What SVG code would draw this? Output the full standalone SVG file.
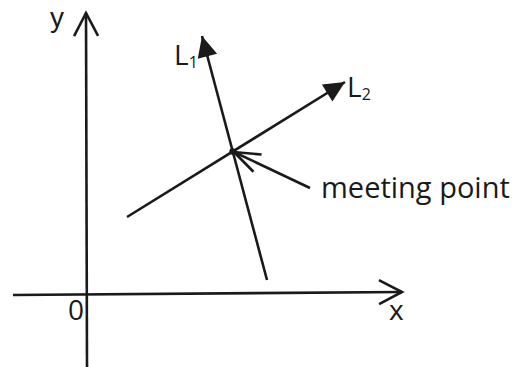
<svg xmlns="http://www.w3.org/2000/svg" width="521" height="367" viewBox="0 0 521 367">
  <style>
    .ln { stroke: #1a1a1a; stroke-width: 2.6; fill: none; }
    .lbl { font-family: "Open Sans", "Liberation Sans", sans-serif; fill: #1a1a1a; }
  </style>
  <defs>
    <marker id="open" markerUnits="userSpaceOnUse" viewBox="-26 -16 30 32" markerWidth="30" markerHeight="32" refX="0" refY="0" orient="auto" overflow="visible">
      <path d="M-23,-12 L0,0 L-23,12" fill="none" stroke="#1a1a1a" stroke-width="2.6" stroke-linejoin="miter"/>
    </marker>
    <marker id="open2" markerUnits="userSpaceOnUse" viewBox="-28 -12 30 24" markerWidth="30" markerHeight="24" refX="0" refY="0" orient="auto" overflow="visible">
      <path d="M-26,-9.5 L0,0 L-26,9.5" fill="none" stroke="#1a1a1a" stroke-width="2.6" stroke-linejoin="miter"/>
    </marker>
    <marker id="solid" markerUnits="userSpaceOnUse" viewBox="-22 -11 23 22" markerWidth="23" markerHeight="22" refX="0" refY="0" orient="auto" overflow="visible">
      <path d="M-21,-10 L0,0 L-21,10 Z" fill="#1a1a1a"/>
    </marker>
  </defs>

  <g id="connectors">
    <line id="y-axis" class="ln" x1="87" y1="367" x2="86" y2="13" marker-end="url(#open)"/>
    <line id="x-axis" class="ln" x1="13" y1="295" x2="402" y2="292" marker-end="url(#open)"/>
    <line id="L1-line" class="ln" x1="267" y1="280" x2="202" y2="36" marker-end="url(#solid)"/>
    <line id="L2-line" class="ln" x1="127" y1="217" x2="345" y2="82" marker-end="url(#solid)"/>
    <line id="meeting-arrow" class="ln" x1="310" y1="188" x2="234" y2="152" marker-end="url(#open2)"/>
  </g>

  <g id="meeting-dot">
    <circle cx="232.5" cy="151.5" r="3.2" fill="#1a1a1a"/>
  </g>

  <g id="label-y"><text x="50" y="27" font-size="28" font-family="Liberation Sans, sans-serif" fill="#1a1a1a">y</text></g>
  <g id="label-x"><text class="lbl" x="389" y="320" font-size="28">x</text></g>
  <g id="label-0"><text class="lbl" x="68" y="320" font-size="28">0</text></g>
  <g id="label-L1"><text class="lbl" x="174" y="65" font-size="28">L<tspan font-size="16" dy="3">1</tspan></text></g>
  <g id="label-L2"><text class="lbl" x="347" y="97" font-size="28">L<tspan font-size="16" dy="3">2</tspan></text></g>
  <g id="label-meeting"><text class="lbl" x="321" y="198" font-size="29">meeting point</text></g>
</svg>
